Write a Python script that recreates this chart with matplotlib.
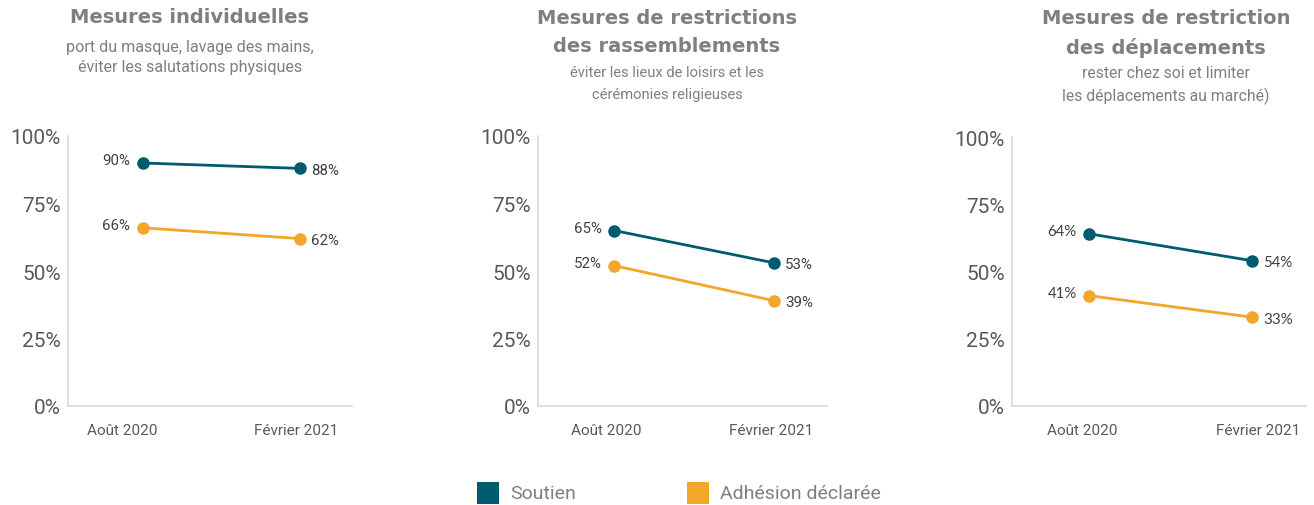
import matplotlib.pyplot as plt
import matplotlib.transforms as mtrans
from matplotlib.patches import Rectangle

# Survey results, Aug 2020 vs Feb 2021
periods = ["Août 2020", "Février 2021"]
titles = [
    "Mesures individuelles",
    "Mesures de restrictions\ndes rassemblements",
    "Mesures de restriction\ndes déplacements",
]
subtitles = [
    "port du masque, lavage des mains,\néviter les salutations physiques",
    "éviter les lieux de loisirs et les\ncérémonies religieuses",
    "rester chez soi et limiter\nles déplacements au marché)",
]
soutien = [[90, 88], [65, 53], [64, 54]]
adhesion = [[66, 62], [52, 39], [41, 33]]
yticks = [0, 25, 50, 75, 100]

TEAL = "#005B6E"
ORANGE = "#F2A62A"
SPINE = "#DCDCDC"
TICK_COL = "#595959"
LABEL_COL = "#404040"
TITLE_COL = "#7F7F7F"
SUB_COL = "#7F7F7F"

W, H = 1314, 506
plt.rcParams["font.family"] = ["Roboto", "DejaVu Sans"]

fig = plt.figure(figsize=(W / 100, H / 100), dpi=100, facecolor="white")

# panel boxes in pixels: left, top, right, bottom
boxes = [(68, 137, 352, 407), (538, 137, 827, 407), (1012, 138, 1306, 407)]
title_cx = [190, 667, 1166]
title_top = [8, 9, 9]
sub_top = [40, 66, 66]
sub_size = [11.6, 10.6, 11.3]
sub_spacing = [1.45, 1.7, 1.5]
label_fonts = ["Roboto", "Roboto", "Lato"]
# horizontal nudge (px) of the period labels under each panel
period_shift = [(-20, -4), (-8, -3), (-7, 6)]


def px(x, y):
    return x / W, 1 - y / H


for i, (l, t, r, b) in enumerate(boxes):
    ax = fig.add_axes([l / W, 1 - b / H, (r - l) / W, (b - t) / H])
    ax.set_xlim(-0.475, 1.33)
    ax.set_ylim(0, 100)
    for s in ["top", "right"]:
        ax.spines[s].set_visible(False)
    for s in ["left", "bottom"]:
        ax.spines[s].set_color(SPINE)
        ax.spines[s].set_linewidth(1.3)
    ax.set_yticks(yticks)
    ax.set_yticklabels([f"{v}%" for v in yticks], fontsize=15, color=TICK_COL)
    ax.set_xticks([0, 1])
    ax.set_xticklabels(periods, fontsize=11, color=TICK_COL)
    ax.tick_params(length=0, axis="y", pad=5)
    ax.tick_params(length=0, axis="x", pad=12)
    for lab, dx in zip(ax.get_xticklabels(), period_shift[i]):
        lab.set_transform(lab.get_transform()
                          + mtrans.ScaledTranslation(dx / 100, 0, fig.dpi_scale_trans))

    xs = [0, 1]
    for vals, col in [(soutien[i], TEAL), (adhesion[i], ORANGE)]:
        ax.plot(xs, vals, color=col, linewidth=2.0, marker="o", markersize=8,
                solid_capstyle="round", clip_on=False, zorder=3)
        ax.annotate(f"{vals[0]}%", xy=(0, vals[0]), xytext=(-9, 2),
                    textcoords="offset points", ha="right", va="center",
                    fontsize=10.8, color=LABEL_COL, family=label_fonts[i])
        ax.annotate(f"{vals[1]}%", xy=(1, vals[1]), xytext=(8, -1),
                    textcoords="offset points", ha="left", va="center",
                    fontsize=10.8, color=LABEL_COL, family=label_fonts[i])

    # titles and subtitles above each panel
    fig.text(*px(title_cx[i], title_top[i]), titles[i], ha="center", va="top",
             fontsize=14, fontweight="bold", color=TITLE_COL,
             family=["DejaVu Sans"], linespacing=1.6)
    fig.text(*px(title_cx[i], sub_top[i]), subtitles[i], ha="center", va="top",
             fontsize=sub_size[i], color=SUB_COL, linespacing=sub_spacing[i])

# legend
for x0, col, name in [(477, TEAL, "Soutien"), (687, ORANGE, "Adhésion déclarée")]:
    fx, fy = px(x0, 505)
    fig.patches.append(Rectangle((fx, fy), 22 / W, 22 / H, transform=fig.transFigure,
                                 facecolor=col, edgecolor="none"))
    tx, ty = px(x0 + 33, 494)
    fig.text(tx, ty, name, ha="left", va="center", fontsize=14, color=TITLE_COL)

fig.savefig("out.png", dpi=100, facecolor="white")
